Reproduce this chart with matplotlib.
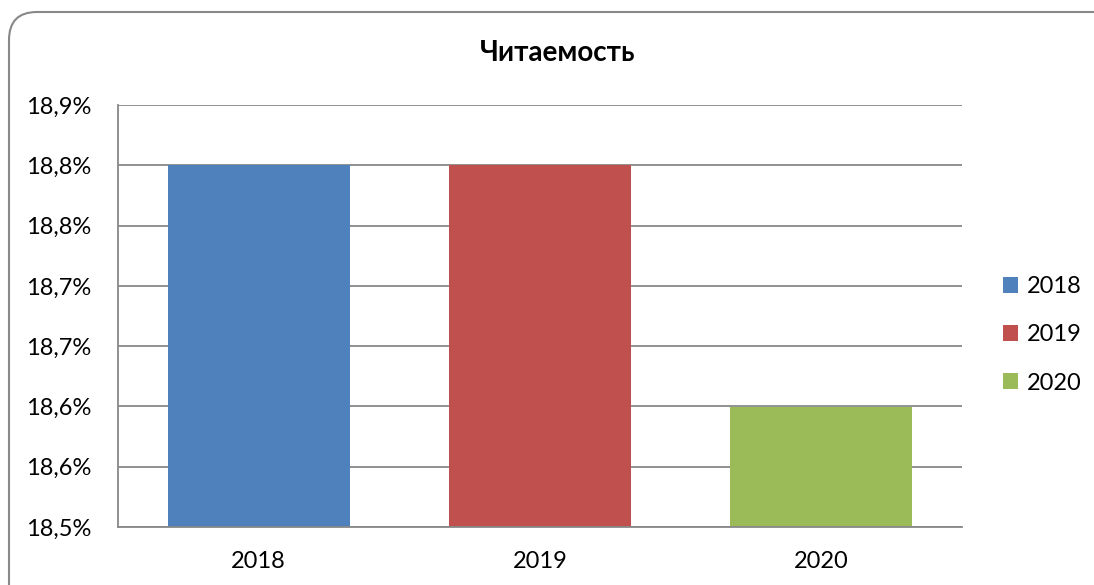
import numpy as np
import matplotlib
matplotlib.use("Agg")
import matplotlib.pyplot as plt
from matplotlib.patches import FancyBboxPatch
from matplotlib.transforms import IdentityTransform

# ── Data ────────────────────────────────────────────────
years = ["2018", "2019", "2020"]
values = [18.843, 18.843, 18.614]          # %
colors = ["#4F81BD", "#C0504D", "#9BBB59"]
title = "Читаемость"

y_min, y_max, n_ticks = 18.5, 18.9, 8

plt.rcParams["font.family"] = ["Lato", "DejaVu Sans"]

fig = plt.figure(figsize=(10.94, 5.85), dpi=100)
ax = fig.add_axes([118 / 1094, 58 / 585, 844 / 1094, 422 / 585])

x = np.arange(len(years))
bars = ax.bar(x, values, width=0.647, color=colors, zorder=2)

ax.set_xlim(-0.5, len(years) - 0.5)
ax.set_ylim(y_min, y_max)
ticks = np.linspace(y_min, y_max, n_ticks)
ax.set_yticks(ticks)
ax.set_yticklabels([f"{t:.1f}%".replace(".", ",") for t in ticks])
ax.set_xticks(x)
ax.set_xticklabels(years)
ax.tick_params(length=0, labelsize=17, colors="black")
ax.tick_params(axis="y", pad=19)
ax.tick_params(axis="x", pad=17)
ax.yaxis.grid(True, color="#888888", linewidth=1.3, zorder=0)
ax.set_axisbelow(True)
for s in ["top", "right"]:
    ax.spines[s].set_visible(False)
for s in ["left", "bottom"]:
    ax.spines[s].set_color("#888888")
    ax.spines[s].set_linewidth(1.3)

fig.text(558 / 1094, 1 - 53 / 585, title, ha="center", va="center",
         fontsize=20, fontweight="bold")

ax.legend(bars, years, loc="center left", bbox_to_anchor=(1003 / 1094, 1 - 335 / 585),
          bbox_transform=fig.transFigure, frameon=False, fontsize=17,
          handlelength=0.65, handleheight=0.65, handletextpad=0.35, labelspacing=1.15,
          borderaxespad=0, borderpad=0)

# rounded chart border
border = FancyBboxPatch((9, -30), 1120, 573 + 30,
                        boxstyle="round,pad=0,rounding_size=28",
                        facecolor="none", edgecolor="#888888", linewidth=1.5,
                        transform=IdentityTransform())
fig.add_artist(border)

fig.savefig("out.png", dpi=100)
